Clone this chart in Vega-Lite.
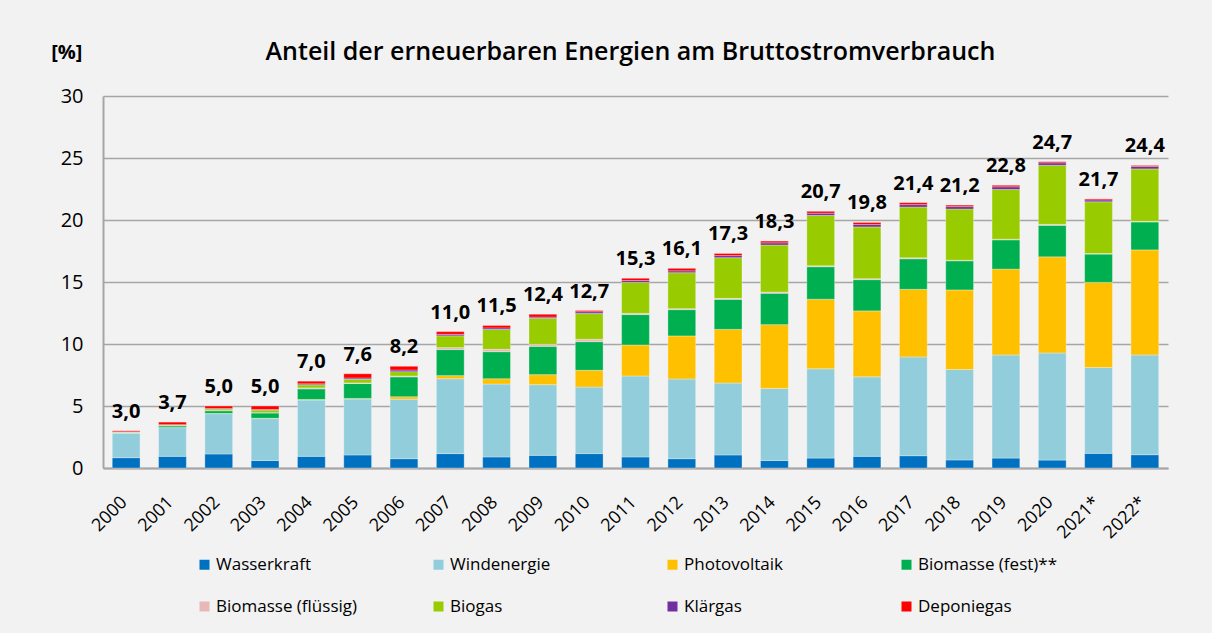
{
  "$schema": "https://vega.github.io/schema/vega-lite/v6.json",
  "width": 1065,
  "height": 372,
  "autosize": {"type": "none"},
  "padding": {"left": 103, "top": 96, "right": 44, "bottom": 165},
  "background": "#f2f2f2",
  "title": {
    "text": "Anteil der erneuerbaren Energien am Bruttostromverbrauch",
    "frame": "group",
    "anchor": "middle",
    "offset": -23,
    "dx": -5,
    "font": "Open Sans",
    "fontSize": 25,
    "fontWeight": 600,
    "color": "#000000"
  },
  "datasets": {
    "parts": [
      {"Jahr": "2000", "Wasserkraft": 0.83, "Windenergie": 1.97, "Photovoltaik": 0.01, "Biomasse (fest)**": 0.05, "Biomasse (flüssig)": 0.01, "Biogas": 0.02, "Klärgas": 0.03, "Deponiegas": 0.08},
      {"Jahr": "2001", "Wasserkraft": 0.94, "Windenergie": 2.31, "Photovoltaik": 0.01, "Biomasse (fest)**": 0.14, "Biomasse (flüssig)": 0.01, "Biogas": 0.05, "Klärgas": 0.04, "Deponiegas": 0.2},
      {"Jahr": "2002", "Wasserkraft": 1.13, "Windenergie": 3.25, "Photovoltaik": 0.02, "Biomasse (fest)**": 0.22, "Biomasse (flüssig)": 0.01, "Biogas": 0.12, "Klärgas": 0.05, "Deponiegas": 0.2},
      {"Jahr": "2003", "Wasserkraft": 0.6, "Windenergie": 3.38, "Photovoltaik": 0.03, "Biomasse (fest)**": 0.43, "Biomasse (flüssig)": 0.02, "Biogas": 0.2, "Klärgas": 0.06, "Deponiegas": 0.28},
      {"Jahr": "2004", "Wasserkraft": 0.94, "Windenergie": 4.54, "Photovoltaik": 0.05, "Biomasse (fest)**": 0.85, "Biomasse (flüssig)": 0.08, "Biogas": 0.25, "Klärgas": 0.08, "Deponiegas": 0.21},
      {"Jahr": "2005", "Wasserkraft": 1.05, "Windenergie": 4.51, "Photovoltaik": 0.05, "Biomasse (fest)**": 1.2, "Biomasse (flüssig)": 0.05, "Biogas": 0.3, "Klärgas": 0.1, "Deponiegas": 0.34},
      {"Jahr": "2006", "Wasserkraft": 0.75, "Windenergie": 4.8, "Photovoltaik": 0.2, "Biomasse (fest)**": 1.6, "Biomasse (flüssig)": 0.07, "Biogas": 0.35, "Klärgas": 0.13, "Deponiegas": 0.3},
      {"Jahr": "2007", "Wasserkraft": 1.16, "Windenergie": 6.04, "Photovoltaik": 0.25, "Biomasse (fest)**": 2.1, "Biomasse (flüssig)": 0.16, "Biogas": 0.95, "Klärgas": 0.12, "Deponiegas": 0.22},
      {"Jahr": "2008", "Wasserkraft": 0.89, "Windenergie": 5.88, "Photovoltaik": 0.43, "Biomasse (fest)**": 2.18, "Biomasse (flüssig)": 0.19, "Biogas": 1.6, "Klärgas": 0.13, "Deponiegas": 0.2},
      {"Jahr": "2009", "Wasserkraft": 1.02, "Windenergie": 5.7, "Photovoltaik": 0.81, "Biomasse (fest)**": 2.28, "Biomasse (flüssig)": 0.16, "Biogas": 2.1, "Klärgas": 0.1, "Deponiegas": 0.23},
      {"Jahr": "2010", "Wasserkraft": 1.16, "Windenergie": 5.37, "Photovoltaik": 1.35, "Biomasse (fest)**": 2.31, "Biomasse (flüssig)": 0.19, "Biogas": 2.07, "Klärgas": 0.15, "Deponiegas": 0.1},
      {"Jahr": "2011", "Wasserkraft": 0.89, "Windenergie": 6.53, "Photovoltaik": 2.5, "Biomasse (fest)**": 2.45, "Biomasse (flüssig)": 0.1, "Biogas": 2.5, "Klärgas": 0.15, "Deponiegas": 0.18},
      {"Jahr": "2012", "Wasserkraft": 0.75, "Windenergie": 6.43, "Photovoltaik": 3.47, "Biomasse (fest)**": 2.12, "Biomasse (flüssig)": 0.08, "Biogas": 2.9, "Klärgas": 0.15, "Deponiegas": 0.2},
      {"Jahr": "2013", "Wasserkraft": 1.05, "Windenergie": 5.8, "Photovoltaik": 4.33, "Biomasse (fest)**": 2.42, "Biomasse (flüssig)": 0.08, "Biogas": 3.28, "Klärgas": 0.17, "Deponiegas": 0.17},
      {"Jahr": "2014", "Wasserkraft": 0.6, "Windenergie": 5.82, "Photovoltaik": 5.14, "Biomasse (fest)**": 2.53, "Biomasse (flüssig)": 0.1, "Biogas": 3.79, "Klärgas": 0.18, "Deponiegas": 0.14},
      {"Jahr": "2015", "Wasserkraft": 0.8, "Windenergie": 7.2, "Photovoltaik": 5.61, "Biomasse (fest)**": 2.62, "Biomasse (flüssig)": 0.08, "Biogas": 4.06, "Klärgas": 0.18, "Deponiegas": 0.15},
      {"Jahr": "2016", "Wasserkraft": 0.94, "Windenergie": 6.41, "Photovoltaik": 5.32, "Biomasse (fest)**": 2.52, "Biomasse (flüssig)": 0.08, "Biogas": 4.17, "Klärgas": 0.2, "Deponiegas": 0.16},
      {"Jahr": "2017", "Wasserkraft": 0.99, "Windenergie": 7.97, "Photovoltaik": 5.45, "Biomasse (fest)**": 2.46, "Biomasse (flüssig)": 0.08, "Biogas": 4.09, "Klärgas": 0.2, "Deponiegas": 0.16},
      {"Jahr": "2018", "Wasserkraft": 0.65, "Windenergie": 7.29, "Photovoltaik": 6.42, "Biomasse (fest)**": 2.35, "Biomasse (flüssig)": 0.05, "Biogas": 4.12, "Klärgas": 0.2, "Deponiegas": 0.12},
      {"Jahr": "2019", "Wasserkraft": 0.8, "Windenergie": 8.32, "Photovoltaik": 6.92, "Biomasse (fest)**": 2.36, "Biomasse (flüssig)": 0.05, "Biogas": 4.01, "Klärgas": 0.22, "Deponiegas": 0.12},
      {"Jahr": "2020", "Wasserkraft": 0.64, "Windenergie": 8.64, "Photovoltaik": 7.75, "Biomasse (fest)**": 2.54, "Biomasse (flüssig)": 0.08, "Biogas": 4.76, "Klärgas": 0.2, "Deponiegas": 0.09},
      {"Jahr": "2021*", "Wasserkraft": 1.18, "Windenergie": 6.92, "Photovoltaik": 6.87, "Biomasse (fest)**": 2.28, "Biomasse (flüssig)": 0.05, "Biogas": 4.17, "Klärgas": 0.15, "Deponiegas": 0.08},
      {"Jahr": "2022*", "Wasserkraft": 1.07, "Windenergie": 8.05, "Photovoltaik": 8.47, "Biomasse (fest)**": 2.25, "Biomasse (flüssig)": 0.05, "Biogas": 4.23, "Klärgas": 0.2, "Deponiegas": 0.08}
    ],
    "totals": [
      {"Jahr": "2000", "Summe": 3.0, "Label": "3,0"},
      {"Jahr": "2001", "Summe": 3.7, "Label": "3,7"},
      {"Jahr": "2002", "Summe": 5.0, "Label": "5,0"},
      {"Jahr": "2003", "Summe": 5.0, "Label": "5,0"},
      {"Jahr": "2004", "Summe": 7.0, "Label": "7,0"},
      {"Jahr": "2005", "Summe": 7.6, "Label": "7,6"},
      {"Jahr": "2006", "Summe": 8.2, "Label": "8,2"},
      {"Jahr": "2007", "Summe": 11.0, "Label": "11,0"},
      {"Jahr": "2008", "Summe": 11.5, "Label": "11,5"},
      {"Jahr": "2009", "Summe": 12.4, "Label": "12,4"},
      {"Jahr": "2010", "Summe": 12.7, "Label": "12,7"},
      {"Jahr": "2011", "Summe": 15.3, "Label": "15,3"},
      {"Jahr": "2012", "Summe": 16.1, "Label": "16,1"},
      {"Jahr": "2013", "Summe": 17.3, "Label": "17,3"},
      {"Jahr": "2014", "Summe": 18.3, "Label": "18,3"},
      {"Jahr": "2015", "Summe": 20.7, "Label": "20,7"},
      {"Jahr": "2016", "Summe": 19.8, "Label": "19,8"},
      {"Jahr": "2017", "Summe": 21.4, "Label": "21,4"},
      {"Jahr": "2018", "Summe": 21.2, "Label": "21,2"},
      {"Jahr": "2019", "Summe": 22.8, "Label": "22,8"},
      {"Jahr": "2020", "Summe": 24.7, "Label": "24,7"},
      {"Jahr": "2021*", "Summe": 21.7, "Label": "21,7"},
      {"Jahr": "2022*", "Summe": 24.4, "Label": "24,4"}
    ]
  },
  "layer": [
    {
      "data": {"name": "parts"},
      "transform": [
        {"fold": ["Wasserkraft", "Windenergie", "Photovoltaik", "Biomasse (fest)**", "Biomasse (flüssig)", "Biogas", "Klärgas", "Deponiegas"], "as": ["Quelle", "Anteil"]},
        {"calculate": "indexof(['Wasserkraft', 'Windenergie', 'Photovoltaik', 'Biomasse (fest)**', 'Biomasse (flüssig)', 'Biogas', 'Klärgas', 'Deponiegas'], datum.Quelle)", "as": "k"}
      ],
      "mark": {"type": "bar", "stroke": "#ffffff", "strokeWidth": 0.6, "strokeOpacity": 0.5},
      "encoding": {
        "x": {
          "field": "Jahr", "type": "nominal", "sort": null,
          "scale": {"paddingInner": 0.4, "paddingOuter": 0.2},
          "axis": {
            "title": null, "labelAngle": -45, "labelFont": "Open Sans", "labelFontSize": 18, "labelColor": "#000000",
            "labelPadding": 25, "labelOffset": -8, "ticks": false, "tickSize": 0, "domainColor": "#a6a6a6", "domainWidth": 2, "grid": false
          }
        },
        "y": {
          "field": "Anteil", "type": "quantitative", "stack": "zero",
          "scale": {"domain": [0, 30], "nice": false},
          "axis": {
            "title": "[%]", "titleAngle": 0, "titleX": -21, "titleY": -44, "titleAlign": "right", "titleBaseline": "middle",
            "titleFont": "Open Sans", "titleFontSize": 20, "titleFontWeight": "bold", "titleColor": "#000000",
            "values": [0, 5, 10, 15, 20, 25, 30], "labelFont": "Open Sans", "labelFontSize": 20, "labelColor": "#000000",
            "labelPadding": 20, "ticks": false, "tickSize": 0, "domainColor": "#a6a6a6", "domainWidth": 2,
            "grid": true, "gridColor": "#a6a6a6", "gridWidth": 1.5
          }
        },
        "color": {
          "field": "Quelle", "type": "nominal",
          "scale": {
            "domain": ["Wasserkraft", "Windenergie", "Photovoltaik", "Biomasse (fest)**", "Biomasse (flüssig)", "Biogas", "Klärgas", "Deponiegas"],
            "range": ["#0070c0", "#92cddc", "#ffc000", "#00b050", "#e6b9b8", "#99cc00", "#7030a0", "#ff0000"]
          },
          "legend": {
            "title": null, "orient": "none", "legendX": 93, "legendY": 460, "direction": "horizontal", "columns": 4,
            "gridAlign": "all", "columnPadding": 72, "rowPadding": 24, "symbolType": "square", "symbolSize": 100,
            "symbolStrokeWidth": 0, "labelFont": "Open Sans", "labelFontSize": 17, "labelColor": "#000000", "labelOffset": 3,
            "labelLimit": 250
          }
        },
        "order": {"field": "k", "type": "quantitative"}
      }
    },
    {
      "data": {"name": "totals"},
      "mark": {"type": "text", "baseline": "bottom", "dy": -9, "font": "Open Sans", "fontSize": 20, "fontWeight": "bold", "color": "#000000"},
      "encoding": {
        "x": {"field": "Jahr", "type": "nominal", "sort": null},
        "y": {"field": "Summe", "type": "quantitative"},
        "text": {"field": "Label"}
      }
    }
  ],
  "config": {"view": {"stroke": null}}
}
